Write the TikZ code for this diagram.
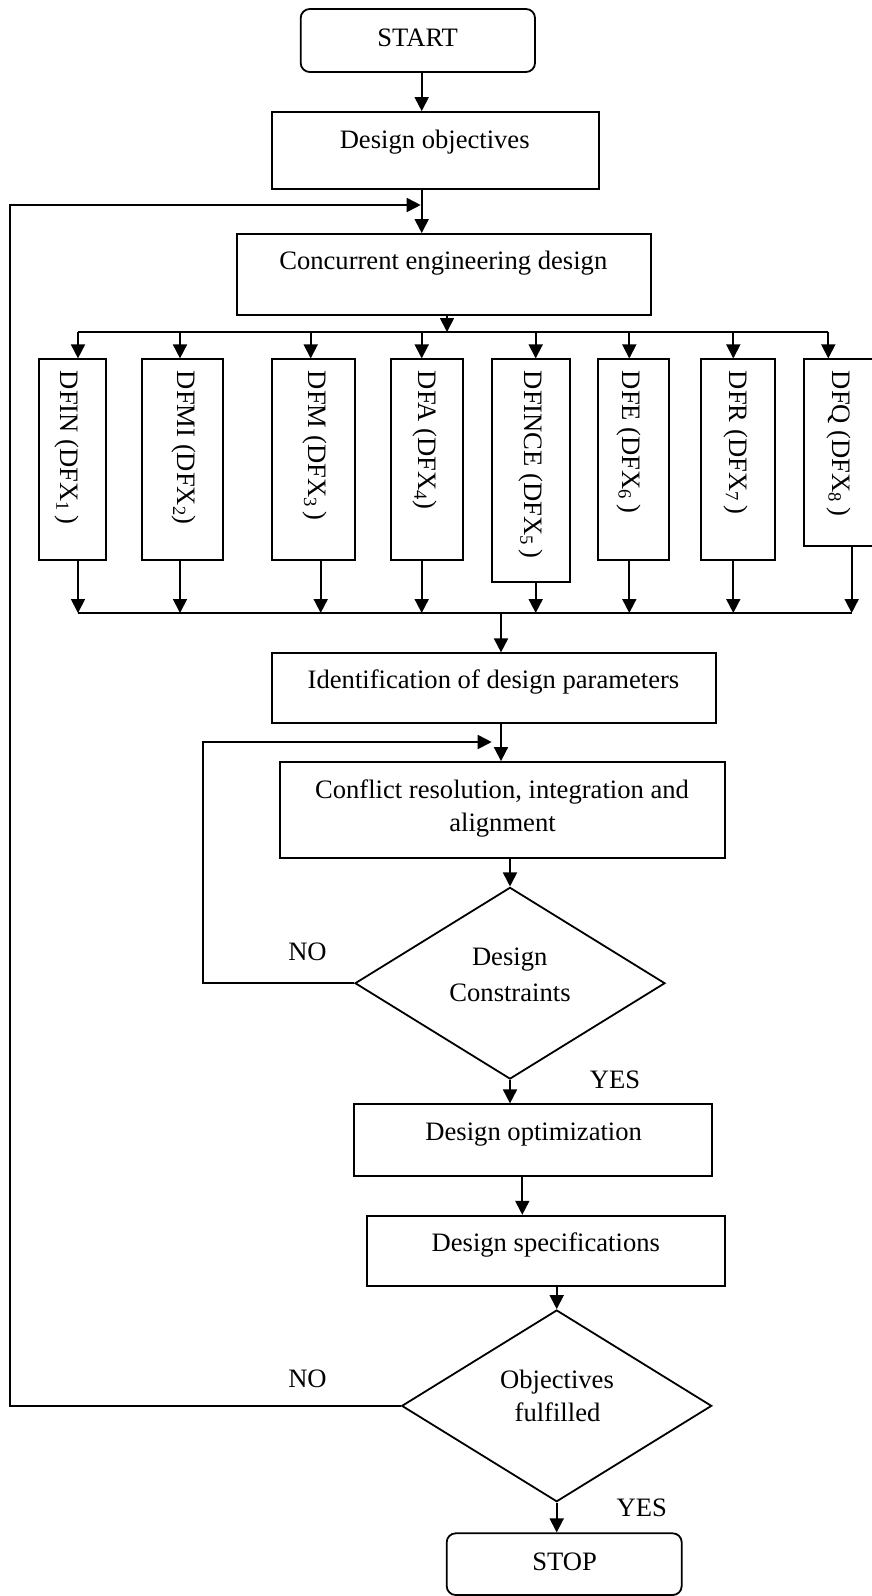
\documentclass[tikz,border=0pt]{standalone}
\usepackage{fontspec}
\setmainfont{Liberation Serif}
\usetikzlibrary{arrows.meta,shapes.geometric}

\begin{document}
\begin{tikzpicture}[x=1pt,y=-1pt,line width=1.8pt,
  box/.style={draw,rectangle,inner sep=0pt},
  term/.style={box,rounded corners=9pt},
  cond/.style={draw,diamond,inner sep=0pt},
  txt/.style={inner sep=0pt,anchor=base,font=\fontsize{26.6}{32}\selectfont},
  vtxt/.style={txt,rotate=-90,anchor=base west},
  arr/.style={-{Triangle[length=14pt,width=14pt]}},
]
\useasboundingbox (0,0) rectangle (872,1596);
\clip (0,0) rectangle (872,1596);

% ---- main column of boxes ----
\node[term,minimum width=234.3pt,minimum height=63pt] (start) at (417.85,40.5) {};
\node[box,minimum width=327pt,minimum height=77pt] (obj) at (435.2,150.5) {};
\node[box,minimum width=414pt,minimum height=81pt] (ced) at (444,274.5) {};

% ---- DFX boxes ----
\node[box,minimum width=67pt,minimum height=200.7pt] (d1) at (72.5,459.65) {};
\node[box,minimum width=81.3pt,minimum height=200.7pt] (d2) at (182.35,459.65) {};
\node[box,minimum width=83.3pt,minimum height=200.7pt] (d3) at (313.35,459.65) {};
\node[box,minimum width=72.6pt,minimum height=200.7pt] (d4) at (427,459.65) {};
\node[box,minimum width=78pt,minimum height=222.7pt] (d5) at (530.7,470.65) {};
\node[box,minimum width=71pt,minimum height=200.7pt] (d6) at (633.8,459.65) {};
\node[box,minimum width=74.3pt,minimum height=200.7pt] (d7) at (738.15,459.65) {};
\node[box,minimum width=85.7pt,minimum height=186.7pt] (d8) at (847.15,452.65) {};

\node[box,minimum width=444.3pt,minimum height=70pt] (idp) at (493.85,688.3) {};
\node[box,minimum width=445pt,minimum height=96pt] (crb) at (502.5,810) {};
\node[cond,minimum width=310pt,minimum height=191.7pt] (dc) at (510,983.2) {};
\node[box,minimum width=358pt,minimum height=71.7pt] (dopt) at (533.3,1140.15) {};
\node[box,minimum width=358pt,minimum height=70.3pt] (dspec) at (546,1250.85) {};
\node[cond,minimum width=310pt,minimum height=191.7pt] (of) at (556.7,1405.85) {};
\node[term,minimum width=235pt,minimum height=61.7pt] (stop) at (564.2,1564.15) {};

% ---- texts ----
\node[txt] (tstart) at (417.7,46.7) {START};
\node[txt] (tobj) at (434.7,148.3) {Design objectives};
\node[txt] (tced) at (443.3,269.3) {Concurrent engineering design};
\node[vtxt] (v1) at (60,370) {DFIN (DFX\textsubscript{1}\,)};
\node[vtxt] (v2) at (177,370) {DFMI (DFX\textsubscript{2})};
\node[vtxt] (v3) at (308,370) {DFM (DFX\textsubscript{3}\,)};
\node[vtxt] (v4) at (418,370) {DFA (DFX\textsubscript{4})};
\node[vtxt] (v5) at (524,370) {DFINCE (DFX\textsubscript{5}\,)};
\node[vtxt] (v6) at (622.5,370) {DFE (DFX\textsubscript{6}\,)};
\node[vtxt] (v7) at (729.5,370) {DFR (DFX\textsubscript{7}\,)};
\node[vtxt] (v8) at (832.5,370) {DFQ (DFX\textsubscript{8}\,)};
\node[txt] (tidp) at (493.5,688) {Identification of design parameters};
\node[txt] (tcrb1) at (502,798.3) {Conflict resolution, integration and};
\node[txt] (tcrb2) at (502.5,831.7) {alignment};
\node[txt] (tdc1) at (509.7,965.7) {Design};
\node[txt] (tdc2) at (510,1001.7) {Constraints};
\node[txt] (no1) at (307.5,960) {NO};
\node[txt] (yes1) at (615,1088.3) {YES};
\node[txt] (tdopt) at (533.7,1140.7) {Design optimization};
\node[txt] (tdspec) at (545.8,1251) {Design specifications};
\node[txt] (tof1) at (557,1388.3) {Objectives};
\node[txt] (tof2) at (557.5,1421.7) {fulfilled};
\node[txt] (no2) at (307.5,1387.3) {NO};
\node[txt] (yes2) at (641.7,1516.7) {YES};
\node[txt] (tstop) at (564.7,1570) {STOP};

% ---- junction points ----
\coordinate (c0) at (421.7,0);
\coordinate (tj) at (447,332);
\coordinate (ti1) at (78,332);
\coordinate (ti2) at (180,332);
\coordinate (ti3) at (310.7,332);
\coordinate (ti4) at (421.7,332);
\coordinate (ti5) at (535.7,332);
\coordinate (ti6) at (629.3,332);
\coordinate (ti7) at (733.3,332);
\coordinate (ti8) at (828.3,332);
\coordinate (bo1) at (78,613);
\coordinate (bo2) at (180,613);
\coordinate (bo3) at (320.7,613);
\coordinate (bo4) at (421.7,613);
\coordinate (bo5) at (535.7,613);
\coordinate (bo6) at (629.3,613);
\coordinate (bo7) at (733.3,613);
\coordinate (bo8) at (851.7,613);
\coordinate (bj) at (501,613);
\coordinate (lp1) at (202.7,742);
\coordinate (lj1) at (491.7,742);
\coordinate (lp2) at (10,205);
\coordinate (lj2) at (420.7,205);
\coordinate (c5) at (522.3,0);

% ---- connectors ----
\draw[arr] (start.south -| c0) -- (obj.north -| c0);
\draw[arr] (obj.south -| c0) -- (ced.north -| c0);
\draw[arr] (ced.south -| tj) -- (tj);
\draw (ti1) -- (ti8);
\foreach \i in {1,...,8} {
  \draw[arr] (ti\i) -- (ti\i |- d\i.north);
  \draw[arr] (bo\i |- d\i.south) -- (bo\i);
}
\draw (bo1) -- (bo8);
\draw[arr] (bj) -- (bj |- idp.north);
\draw[arr] (idp.south -| bj) -- (crb.north -| bj);
\draw[arr] (crb.south -| dc.north) -- (dc.north);
\draw[arr] (dc.west) -| (lp1) -- (lj1);
\draw[arr] (dc.south) -- (dopt.north -| dc.south);
\draw[arr] (dopt.south -| c5) -- (dspec.north -| c5);
\draw[arr] (dspec.south -| of.north) -- (of.north);
\draw[arr] (of.west) -| (lp2) -- (lj2);
\draw[arr] (of.south) -- (stop.north -| of.south);
\end{tikzpicture}
\end{document}
